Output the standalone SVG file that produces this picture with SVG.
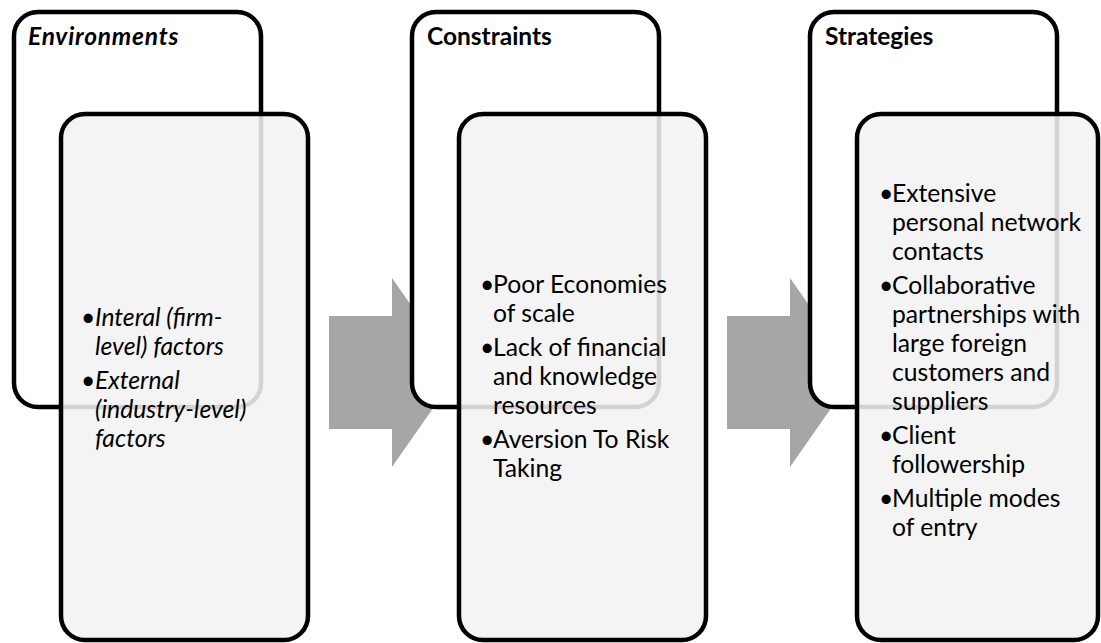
<svg xmlns="http://www.w3.org/2000/svg" width="1101" height="643" viewBox="0 0 1101 643">
<style>
.back{fill:#ffffff;stroke:#000000;stroke-width:4.5}
.front{fill:#f2f2f2;fill-opacity:0.87;stroke:#000000;stroke-width:4.5}
.arrow{fill:#a6a6a6}
.hdr{font-family:Lato,"Liberation Sans",sans-serif;font-size:24.5px;font-weight:bold;fill:#000}
.body{font-family:Lato,"Liberation Sans",sans-serif;font-size:24.7px;fill:#000}
.it{font-style:italic}
.hi{letter-spacing:0.8px}
</style>
<rect width="1101" height="643" fill="#ffffff"/>
<g id="connectors">
<polygon class="arrow" points="329,316 392,316 392,278 458,372.5 392,467 392,429 329,429"/>
<polygon class="arrow" points="727,316 790,316 790,278 856,372.5 790,467 790,429 727,429"/>
</g>
<g id="node-environments">
<rect class="back" x="14" y="12" width="247" height="395" rx="24"/>
<text class="hdr it hi" x="28" y="45">Environments</text>
<rect class="front" x="61" y="114" width="247" height="526" rx="24"/>
<text class="body it">
<tspan x="81" y="326">•</tspan><tspan x="95" y="326">Interal (firm-</tspan>
<tspan x="95" y="355">level) factors</tspan>
<tspan x="81" y="389">•</tspan><tspan x="95" y="389">External</tspan>
<tspan x="95" y="418">(industry-level)</tspan>
<tspan x="95" y="447">factors</tspan>
</text>
</g>
<g id="node-constraints">
<rect class="back" x="412" y="12" width="247" height="395" rx="24"/>
<text class="hdr" x="427" y="45">Constraints</text>
<rect class="front" x="459" y="114" width="247" height="526" rx="24"/>
<text class="body">
<tspan x="480" y="293">•</tspan><tspan x="493" y="293">Poor Economies</tspan>
<tspan x="493" y="322">of scale</tspan>
<tspan x="480" y="356">•</tspan><tspan x="493" y="356">Lack of financial</tspan>
<tspan x="493" y="385">and knowledge</tspan>
<tspan x="493" y="414">resources</tspan>
<tspan x="480" y="448">•</tspan><tspan x="493" y="448">Aversion To Risk</tspan>
<tspan x="493" y="477">Taking</tspan>
</text>
</g>
<g id="node-strategies">
<rect class="back" x="810" y="12" width="247" height="395" rx="24"/>
<text class="hdr" x="825" y="45">Strategies</text>
<rect class="front" x="857" y="114" width="241" height="526" rx="24"/>
<text class="body">
<tspan x="879" y="202">•</tspan><tspan x="892" y="202">Extensive</tspan>
<tspan x="892" y="231">personal network</tspan>
<tspan x="892" y="260">contacts</tspan>
<tspan x="879" y="294">•</tspan><tspan x="892" y="294">Collaborative</tspan>
<tspan x="892" y="323">partnerships with</tspan>
<tspan x="892" y="352">large foreign</tspan>
<tspan x="892" y="381">customers and</tspan>
<tspan x="892" y="410">suppliers</tspan>
<tspan x="879" y="444">•</tspan><tspan x="892" y="444">Client</tspan>
<tspan x="892" y="473">followership</tspan>
<tspan x="879" y="507">•</tspan><tspan x="892" y="507">Multiple modes</tspan>
<tspan x="892" y="536">of entry</tspan>
</text>
</g>
</svg>
